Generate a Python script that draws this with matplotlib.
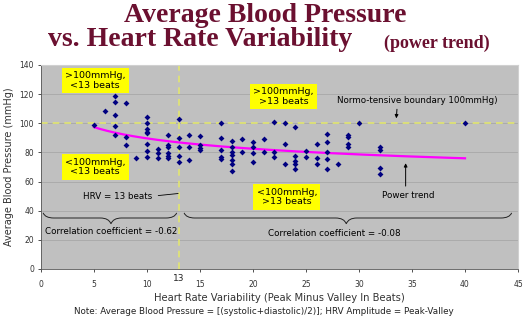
import numpy as np
import matplotlib
matplotlib.use("Agg")
import matplotlib.pyplot as plt
from matplotlib.path import Path
from matplotlib.patches import PathPatch

# heart rate variability (beats) and average blood pressure (mmHg)
hrv = [5, 6,
       7, 7, 7, 7, 7,
       8, 8, 8,
       9,
       10, 10, 10, 10, 10, 10, 10, 10,
       11, 11, 11,
       12, 12, 12, 12, 12, 12,
       13, 13, 13, 13, 13,
       14, 14, 14,
       15, 15, 15, 15,
       17, 17, 17, 17, 17,
       18, 18, 18, 18, 18, 18, 18,
       19, 19,
       20, 20, 20, 20,
       21, 21,
       22, 22, 22,
       23, 23, 23,
       24, 24, 24, 24, 24,
       25, 25,
       26, 26, 26,
       27, 27, 27, 27, 27,
       28,
       29, 29, 29, 29,
       30,
       32, 32, 32, 32,
       40]
bp = [99, 108.7,
      118.5, 114.3, 106, 98, 92,
      113.7, 90.8, 85,
      76,
      104.5, 100, 96, 94.3, 93, 85.6, 81, 77,
      82.5, 79.3, 76,
      92.3, 85, 83.5, 79.3, 77.5, 76,
      102.7, 89.7, 84, 77.6, 73.6,
      92, 84, 75,
      91, 85, 82.8, 81.7,
      100, 90.2, 82, 77, 75.5,
      88, 84, 80.5, 78.2, 74.8, 72, 67,
      89, 80,
      87, 83.5, 79.5, 73.6,
      89, 80,
      101, 80.5, 77,
      100, 85.7, 72,
      97.7, 77.6, 74, 72, 68.5,
      81, 76.7,
      85.8, 76, 72,
      92.4, 87, 80, 75.5, 68.8,
      72,
      92, 90.4, 85.6, 84,
      100,
      83.5, 81.7, 69.5, 65.5,
      100]

boundary_bp = 100
hrv_split = 13
x_ticks = [0, 5, 10, 15, 20, 25, 30, 35, 40, 45]
y_ticks = [0, 20, 40, 60, 80, 100, 120, 140]

hrv = np.array(hrv, dtype=float)
bp = np.array(bp, dtype=float)

# power trend fitted the way the spreadsheet does it (least squares in log-log)
b, loga = np.polyfit(np.log(hrv), np.log(bp), 1)
xt = np.linspace(hrv.min(), hrv.max(), 200)
yt = np.exp(loga) * xt ** b

fig = plt.figure(figsize=(5.28, 3.24), dpi=100)
ax = fig.add_axes([41 / 528, 1 - 269 / 324, 477 / 528, 204 / 324])
ax.set_facecolor("#c0c0c0")

ax.set_xlim(0, 45)
ax.set_ylim(0, 140)
ax.set_xticks(x_ticks)
ax.set_yticks(y_ticks)
ax.tick_params(labelsize=5.5, colors="#333333", length=2, width=0.6)
ax.tick_params(axis="x", pad=6)
ax.tick_params(axis="y", pad=3)
ax.grid(axis="y", color="#a8a8a8", linewidth=0.6)
ax.set_axisbelow(True)
for s in ["top", "right"]:
    ax.spines[s].set_color("#d0d0d0")
for s in ["left", "bottom"]:
    ax.spines[s].set_color("#555555")
    ax.spines[s].set_linewidth(0.6)

dash_col = "#e2e670"
ax.axhline(boundary_bp, color=dash_col, linestyle=(0, (4, 3)), linewidth=1.2, zorder=2)
ax.axvline(hrv_split, color=dash_col, linestyle=(0, (4, 3)), linewidth=1.2, zorder=2)

ax.plot(xt, yt, color="#ff00ff", linewidth=1.6, zorder=3)
ax.scatter(hrv, bp, marker="D", s=9, color="#000080", zorder=4, linewidths=0)

ax.text(hrv_split, -3.5, "13", ha="center", va="top", fontsize=6.5, color="#222222")

# yellow quadrant boxes
box = dict(boxstyle="square,pad=0.35", facecolor="#ffff00", edgecolor="none")
tkw = dict(ha="center", va="center", fontsize=6.8, bbox=box, linespacing=1.1, zorder=5)
ax.text(5.1, 129.5, ">100mmHg,\n<13 beats", **tkw)
ax.text(22.9, 118.5, ">100mmHg,\n>13 beats", **tkw)
ax.text(5.1, 70, "<100mmHg,\n<13 beats", **tkw)
ax.text(23.2, 49.5, "<100mmHg,\n>13 beats", **tkw)

akw = dict(fontsize=6.3, ha="center", va="center")
ax.text(35.5, 115.5, "Normo-tensive boundary 100mmHg)", **akw)
ax.annotate("", xy=(33.5, 101.5), xytext=(33.6, 111.5),
            arrowprops=dict(arrowstyle="-|>", color="black", lw=0.7, mutation_scale=5))
ax.text(34.6, 50.5, "Power trend", **akw)
ax.annotate("", xy=(34.4, 74.5), xytext=(34.4, 55),
            arrowprops=dict(arrowstyle="-|>", color="black", lw=0.7, mutation_scale=5))
ax.text(7.2, 49.5, "HRV = 13 beats", **akw)
ax.annotate("", xy=(13.2, 52), xytext=(10.8, 50.2),
            arrowprops=dict(arrowstyle="-", color="black", lw=0.6))
ax.text(6.6, 25.5, "Correlation coefficient = -0.62", **akw)
ax.text(27.7, 24.5, "Correlation coefficient = -0.08", **akw)


def brace(x0, x1, xm, ytop, ymid, ytip):
    d = 1.0
    verts = [(x0, ytop), (x0 + 0.2, ymid), (x0 + d, ymid),
             (xm - d, ymid), (xm - 0.2, ymid), (xm, ytip),
             (xm + 0.2, ymid), (xm + d, ymid),
             (x1 - d, ymid), (x1 - 0.2, ymid), (x1, ytop)]
    codes = [Path.MOVETO, Path.CURVE3, Path.CURVE3,
             Path.LINETO, Path.CURVE3, Path.CURVE3,
             Path.CURVE3, Path.CURVE3,
             Path.LINETO, Path.CURVE3, Path.CURVE3]
    ax.add_patch(PathPatch(Path(verts, codes), facecolor="none",
                           edgecolor="#222222", lw=0.7, zorder=5))


brace(0.2, 12.8, 6.6, 38.5, 35, 31)
brace(13.5, 44.4, 28.8, 38.5, 35, 31)

ax.set_xlabel("Heart Rate Variability (Peak Minus Valley In Beats)",
              fontsize=7.2, color="#333333", labelpad=3)
ax.set_ylabel("Average Blood Pressure (mmHg)", fontsize=7, color="#333333", labelpad=4)

fig.text(0.5, 1 - 312 / 324,
         "Note: Average Blood Pressure = [(systolic+diastolic)/2)]; HRV Amplitude = Peak-Valley",
         ha="center", va="center", fontsize=6.3, color="#222222")

tcol = "#6b1030"
fig.text(265 / 528, 1 - 15 / 324, "Average Blood Pressure", ha="center", va="center",
         fontsize=20, fontweight="bold", family="Liberation Serif", color=tcol)
fig.text(48 / 528, 1 - 40 / 324, "vs. Heart Rate Variability", ha="left", va="center",
         fontsize=20, fontweight="bold", family="Liberation Serif", color=tcol)
fig.text(384 / 528, 1 - 43 / 324, "(power trend)", ha="left", va="center",
         fontsize=13, fontweight="bold", family="Liberation Serif", color=tcol)

fig.savefig("out.png", dpi=100)
